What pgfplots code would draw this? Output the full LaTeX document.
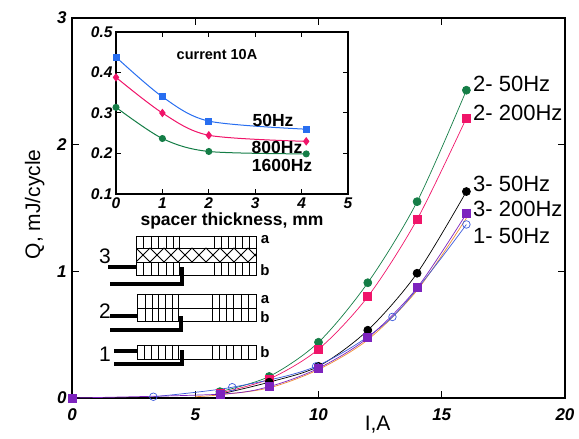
\documentclass[border=0pt]{standalone}
\usepackage{fontspec}
\setmainfont{Liberation Sans}
\usepackage{pgfplots}
\pgfplotsset{compat=1.18}
\definecolor{cgreen}{RGB}{20,125,70}
\definecolor{cpink}{RGB}{240,20,105}
\definecolor{cpurple}{RGB}{125,35,190}
\definecolor{cblue}{RGB}{40,110,240}
\definecolor{corange}{RGB}{240,140,50}
\definecolor{copen}{RGB}{60,90,220}
\begin{document}
\begin{tikzpicture}[x=1pt,y=1pt]
\path (0,0) rectangle (579,439);
\begin{axis}[
  at={(72pt,41pt)},anchor=south west,scale only axis,width=493pt,height=380pt,
  xmin=0,xmax=20,ymin=0,ymax=3,clip=false,
  axis line style={line width=1.8pt},
  tick style={line width=1.2pt,black},major tick length=7pt,
  tick align=inside,xtick={0,5,10,15,20},ytick={0,1,2,3},
  xtick pos=both,ytick pos=both,
  /pgf/number format/assume math mode=true,
  tick label style={font=\fontsize{17}{17}\selectfont\bfseries\itshape},
  xticklabel style={yshift=-7pt},yticklabel style={xshift=-2pt},
  xlabel={I,A},ylabel={Q, mJ/cycle},
  label style={font=\fontsize{21}{21}\selectfont},
  xlabel style={at={(rel axis cs:0.62,0)},anchor=north,yshift=-15pt},
  ylabel style={at={(rel axis cs:0,0.51)},anchor=south,yshift=24pt},
]
\addplot[cgreen,line width=.7pt,smooth,mark=*,mark size=4pt,mark options={solid,fill=cgreen}] coordinates {(6,.05)(8,.17)(10,.44)(12,.91)(14,1.55)(16,2.43)};
\addplot[cpink,line width=.7pt,smooth,mark=square*,mark size=4pt,mark options={solid,fill=cpink}] coordinates {(6,.04)(8,.15)(10,.385)(12,.80)(14,1.41)(16,2.21)};
\addplot[black,line width=.7pt,smooth,mark=*,mark size=4pt,mark options={solid,fill=black}] coordinates {(6,.03)(8,.125)(10,.25)(12,.535)(14,.985)(16,1.63)};
\addplot[corange,line width=.7pt,smooth] coordinates {(5,.01)(6,.025)(8,.08)(10,.225)(12,.46)(14,.85)(16,1.42)};
\addplot[copen,line width=.7pt,smooth,mark=o,mark size=3.8pt,mark options={solid,fill=white}] coordinates {(3.3,.01)(6.5,.085)(9.9,.25)(13,.64)(16,1.37)};
\addplot[cpurple,line width=.7pt,smooth,mark=square*,mark size=4pt,mark options={solid,fill=cpurple}] coordinates {(0,0)(6,.03)(8,.09)(10,.235)(12,.475)(14,.87)(16,1.455)};
\end{axis}
\begin{axis}[
  at={(116pt,245pt)},anchor=south west,scale only axis,width=232pt,height=162pt,
  xmin=0,xmax=5,ymin=.1,ymax=.5,clip=false,
  axis line style={line width=1.3pt},
  tick style={line width=1pt,black},major tick length=5pt,
  tick align=inside,xtick={0,1,2,3,4,5},ytick={.1,.2,.3,.4,.5},
  xtick pos=both,ytick pos=both,
  /pgf/number format/assume math mode=true,
  /pgf/number format/fixed,/pgf/number format/precision=1,/pgf/number format/fixed zerofill,
  xticklabel={\pgfmathprintnumber[fixed,precision=0]{\tick}},
  tick label style={font=\fontsize{15.5}{15.5}\selectfont\bfseries\itshape},
  xlabel={spacer thickness, mm},
  xlabel style={font=\fontsize{17.5}{17.5}\selectfont\bfseries,yshift=3pt},
]
\addplot[cblue,line width=1pt,smooth,mark=square*,mark size=3pt,mark options={solid,fill=cblue}] coordinates {(0,.438)(1,.34)(2,.28)(4.1,.26)};
\addplot[cpink,line width=1pt,smooth,mark=diamond*,mark size=3.5pt,mark options={solid,fill=cpink}] coordinates {(0,.388)(1,.30)(2,.245)(4.1,.23)};
\addplot[cgreen,line width=1pt,smooth,mark=*,mark size=3pt,mark options={solid,fill=cgreen}] coordinates {(0,.314)(1,.237)(2,.205)(4.1,.199)};
\end{axis}
\begin{scope}[shift={(0,439)},x=1pt,y=-1pt]
\foreach \t/\yy in {{2- 50Hz}/84,{2- 200Hz}/113,{3- 50Hz}/184,{3- 200Hz}/209,{1- 50Hz}/236}
  \node[anchor=west,inner sep=0,font=\fontsize{22}{22}\selectfont] at (473,\yy) {\t};
\node[inner sep=0,font=\fontsize{14.5}{14.5}\selectfont\bfseries] at (217,55) {current 10A};
\node[inner sep=0,font=\fontsize{17.5}{17.5}\selectfont\bfseries] at (273,120) {50Hz};
\node[inner sep=0,font=\fontsize{17.5}{17.5}\selectfont\bfseries] at (277,147) {800Hz};
\node[inner sep=0,font=\fontsize{17.5}{17.5}\selectfont\bfseries] at (282,165) {1600Hz};
% schematic block 3
\draw[line width=.8pt] (136,236) rectangle (256,275);
\draw[line width=.8pt] (136,248)--(256,248) (136,262)--(256,262);
\foreach \xx in {143,151,158,166,173,179,214,221,228,235,242,249}{
  \draw[line width=.8pt] (\xx,236)--(\xx,248) (\xx,262)--(\xx,275);}
\begin{scope}
\clip (136,248) rectangle (256,262);
\foreach \xx in {122,136,...,262}{
  \draw[line width=.8pt] (\xx,248)--(\xx+14,262) (\xx+14,248)--(\xx,262);}
\end{scope}
\draw[line width=3.2pt] (108,267)--(136,267);
\draw[line width=3.2pt] (110,284)--(182,284)--(182,267);
\node[inner sep=0,font=\fontsize{21}{21}\selectfont] at (105,256) {3};
\node[inner sep=0,font=\fontsize{15}{15}\selectfont\bfseries] at (265,240) {a};
\node[inner sep=0,font=\fontsize{15}{15}\selectfont\bfseries] at (265,270) {b};
% block 2
\draw[line width=.8pt] (137,294) rectangle (256,321);
\draw[line width=.8pt] (137,308)--(256,308);
\foreach \xx in {145,152,158,165,172,178,212,219,226,233,241,248}{
  \draw[line width=.8pt] (\xx,294)--(\xx,321);}
\draw[line width=3.2pt] (110,316)--(137,316);
\draw[line width=3.2pt] (110,330)--(181,330)--(181,316);
\node[inner sep=0,font=\fontsize{21}{21}\selectfont] at (105,311) {2};
\node[inner sep=0,font=\fontsize{15}{15}\selectfont\bfseries] at (265,300) {a};
\node[inner sep=0,font=\fontsize{15}{15}\selectfont\bfseries] at (265,317) {b};
% block 1
\draw[line width=.8pt] (137,345) rectangle (256,359);
\foreach \xx in {144,151,158,165,172,178,212,219,226,233,241,248}{
  \draw[line width=.8pt] (\xx,345)--(\xx,359);}
\draw[line width=3.2pt] (114,351)--(137,351);
\draw[line width=3.2pt] (114,364)--(182,364)--(182,350);
\node[inner sep=0,font=\fontsize{21}{21}\selectfont] at (105,354) {1};
\node[inner sep=0,font=\fontsize{15}{15}\selectfont\bfseries] at (265,352) {b};
\end{scope}
\end{tikzpicture}
\end{document}
